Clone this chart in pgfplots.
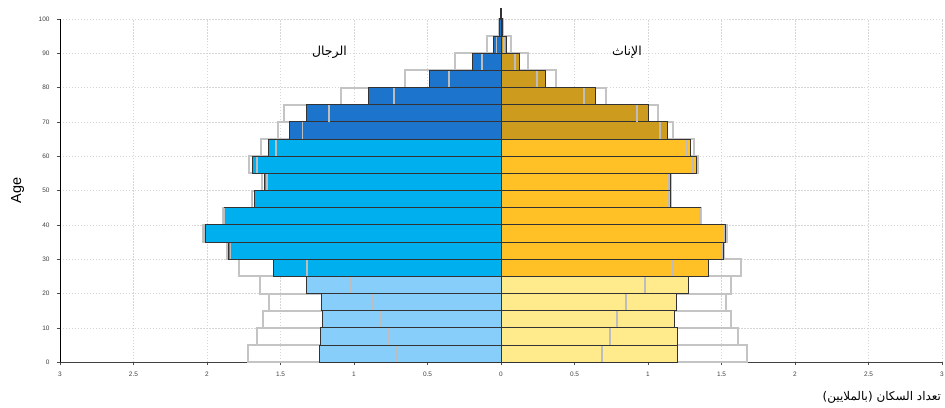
\documentclass[border=0pt]{standalone}
\usepackage{pgfplots}
\pgfplotsset{compat=1.18}
\usepackage{fontspec}
\setmainfont{Liberation Sans}
\newfontfamily\arabicfont[Script=Arabic]{DejaVu Sans}
\TeXXeTstate=1
\definecolor{mLight}{HTML}{87CEFA}
\definecolor{mMid}{HTML}{00B0EE}
\definecolor{mDark}{HTML}{1C74CC}
\definecolor{fLight}{HTML}{FFEB8C}
\definecolor{fMid}{HTML}{FFC125}
\definecolor{fDark}{HTML}{CD9B1D}
\definecolor{outl}{HTML}{C4C4C4}
\definecolor{intl}{HTML}{BDBDBD}
\definecolor{gridc}{HTML}{D6D6D6}
\begin{document}
\begin{tikzpicture}
\begin{axis}[
  scale only axis, width=882bp, height=343.3bp,
  at={(0,0)}, anchor=south west,
  xmin=-3, xmax=3, ymin=0, ymax=100,
  clip=false,
  axis x line=bottom, axis y line=left,
  axis line style={-},
  x axis line style={black!75, line width=0.9bp},
  y axis line style={black, line width=0.9bp},
  xtick={-3,-2.5,...,3},
  xticklabels={3,2.5,2,1.5,1,0.5,0,0.5,1,1.5,2,2.5,3},
  ytick={0,10,...,100},
  tick align=outside, major tick length=3bp,
  tick style={black!70, line width=0.7pt},
  tick label style={font=\fontsize{6.5}{7.5}\selectfont, text=black!75},
  xticklabel style={yshift=-3bp},
  yticklabel style={xshift=-4bp},
  /pgf/number format/assume math mode=true,
  grid=major,
  major grid style={gridc, dash pattern=on 1.5pt off 1.5pt, line width=0.7pt},
  ylabel={Age},
  ylabel style={font=\fontsize{14.5}{16}\selectfont, at={(rel axis cs:-0.048,0.5)}, anchor=center, rotate=0},
  xlabel={\arabicfont\beginR تعداد السكان (بالملايين)\endR},
  xlabel style={font=\fontsize{12}{14}\selectfont, at={(rel axis cs:1,0)}, anchor=east, xshift=2.5bp, yshift=-35bp},
  every axis plot/.append style={xbar, bar shift=0pt, bar width=5},
]
% outline bars (other year), male
\addplot[draw=outl, line width=2bp, fill=none] coordinates {
(-1.72,2.5) (-1.66,7.5) (-1.617,12.5) (-1.58,17.5) (-1.637,22.5) (-1.785,27.5) (-1.865,32.5) (-2.03,37.5) (-1.893,42.5) (-1.696,47.5) (-1.624,52.5) (-1.716,57.5) (-1.63,62.5) (-1.52,67.5) (-1.476,72.5) (-1.09,77.5) (-0.655,82.5) (-0.311,87.5) (-0.093,92.5) (-0.015,97.5)};
% outline bars, female
\addplot[draw=outl, line width=2bp, fill=none] coordinates {
(1.671,2.5) (1.61,7.5) (1.567,12.5) (1.533,17.5) (1.567,22.5) (1.635,27.5) (1.52,32.5) (1.535,37.5) (1.362,42.5) (1.155,47.5) (1.155,52.5) (1.338,57.5) (1.311,62.5) (1.172,67.5) (1.066,72.5) (0.714,77.5) (0.372,82.5) (0.184,87.5) (0.066,92.5) (0.015,97.5)};
% male filled
\addplot[fill=mLight, draw=black!80, line width=1bp] coordinates {
(-1.238,2.5) (-1.23,7.5) (-1.215,12.5) (-1.22,17.5) (-1.32,22.5)};
\addplot[fill=mMid, draw=black!80, line width=1bp] coordinates {
(-1.549,27.5) (-1.855,32.5) (-2.007,37.5) (-1.878,42.5) (-1.68,47.5) (-1.61,52.5) (-1.692,57.5) (-1.583,62.5)};
\addplot[fill=mDark, draw=black!80, line width=1bp] coordinates {
(-1.437,67.5) (-1.32,72.5) (-0.903,77.5) (-0.488,82.5) (-0.195,87.5) (-0.052,92.5) (-0.01,97.5)};
% female filled
\addplot[fill=fLight, draw=black!80, line width=1bp] coordinates {
(1.204,2.5) (1.204,7.5) (1.18,12.5) (1.197,17.5) (1.274,22.5)};
\addplot[fill=fMid, draw=black!80, line width=1bp] coordinates {
(1.41,27.5) (1.515,32.5) (1.526,37.5) (1.358,42.5) (1.152,47.5) (1.152,52.5) (1.333,57.5) (1.286,62.5)};
\addplot[fill=fDark, draw=black!80, line width=1bp] coordinates {
(1.132,67.5) (1.005,72.5) (0.642,77.5) (0.306,82.5) (0.129,87.5) (0.039,92.5) (0.01,97.5)};
% 100+
\addplot[fill=black!80, draw=black!80, line width=0.8bp, bar width=3] coordinates {(-0.003,101.5) (0.003,101.5)};
% interior markers
\addplot[xbar=false, only marks, mark=|, mark size=8.1bp, mark options={draw=intl, line width=1.8bp}] coordinates {
(-0.71,2.5) (-0.77,7.5) (-0.82,12.5) (-0.88,17.5) (-1.027,22.5) (-1.318,27.5) (-1.84,32.5) (-2.02,37.5) (-1.887,42.5) (-1.69,47.5) (-1.59,52.5) (-1.66,57.5) (-1.533,62.5) (-1.35,67.5) (-1.17,72.5) (-0.728,77.5) (-0.354,82.5) (-0.127,87.5) (-0.03,92.5)
(0.685,2.5) (0.741,7.5) (0.787,12.5) (0.85,17.5) (0.98,22.5) (1.172,27.5) (1.505,32.5) (1.52,37.5) (1.352,42.5) (1.14,47.5) (1.142,52.5) (1.308,57.5) (1.263,62.5) (1.084,67.5) (0.923,72.5) (0.565,77.5) (0.243,82.5) (0.095,87.5) (0.023,92.5)};
\node[font=\arabicfont\fontsize{12.5}{14}\selectfont] at (axis cs:-1.167,90.4) {\beginR الرجال\endR};
\node[font=\arabicfont\fontsize{12.5}{14}\selectfont] at (axis cs:0.857,90.4) {\beginR الإناث\endR};
\end{axis}
\pgfresetboundingbox
\path[use as bounding box] (-60bp,-45.7bp) rectangle (885bp,362.3bp);
\end{tikzpicture}
\end{document}
